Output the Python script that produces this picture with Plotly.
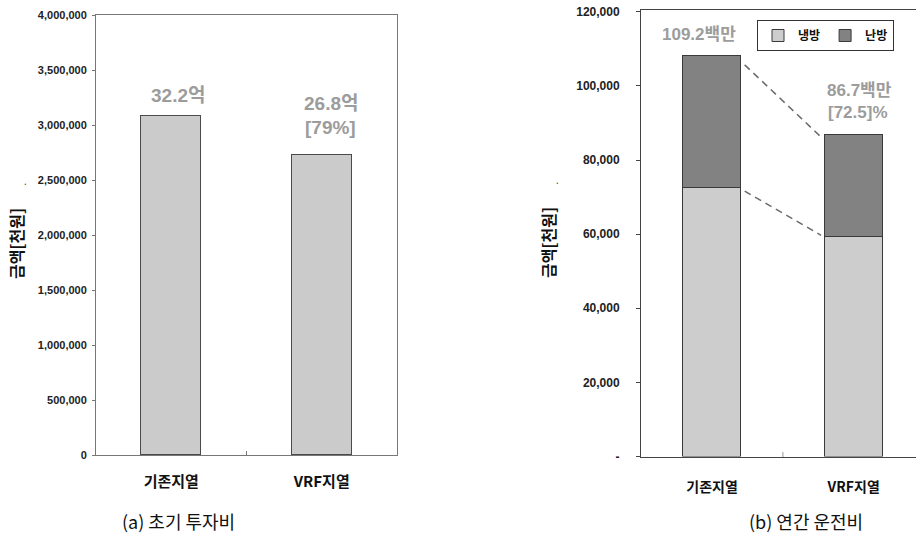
import plotly.graph_objects as go

# ---------------- data ----------------
categories = ["기존지열", "VRF지열"]
cat_pos = [0, 1]

invest_values = [3080000, 2730000]            # (a) 초기 투자비 [천원]
invest_labels = ["32.2억", "26.8억"]
invest_sub = ["", "[79%]"]
invest_ticks = [0, 500000, 1000000, 1500000, 2000000, 2500000, 3000000, 3500000, 4000000]
invest_ticktext = ["0", "500,000", "1,000,000", "1,500,000", "2,000,000",
                   "2,500,000", "3,000,000", "3,500,000", "4,000,000"]

cooling = [72400, 59200]                       # 냉방
heating = [35700, 27500]                       # 난방
oper_labels = ["109.2백만", "86.7백만"]
oper_sub = ["", "[72.5]%"]
oper_ticks = [0, 20000, 40000, 60000, 80000, 100000, 120000]
oper_ticktext = ["-", "20,000", "40,000", "60,000", "80,000", "100,000", "120,000"]

guide_x = [0.23, 0.77]
guide_top = [105700, 86200]
guide_low = [71600, 59700]

W, H = 916, 534
def px(x): return x / W
def py(y): return 1 - y / H

KFONT = "Noto Sans CJK KR, Noto Sans, sans-serif"
TFONT = "Liberation Sans, Arial, sans-serif"
NFONT = "Liberation Sans, Noto Sans CJK KR, sans-serif"

fig = go.Figure()

# (a) invest bars
fig.add_trace(go.Bar(
    x=cat_pos, y=invest_values, width=0.4, xaxis="x", yaxis="y",
    marker=dict(color="#cbcbcb", line=dict(color="#4a4a4a", width=1)),
    showlegend=False, hoverinfo="skip"))

# (b) stacked bars
fig.add_trace(go.Bar(
    x=cat_pos, y=cooling, width=0.41, name="냉방", xaxis="x2", yaxis="y2",
    marker=dict(color="#cdcdcd", line=dict(color="#3a3a3a", width=1)),
    hoverinfo="skip"))
fig.add_trace(go.Bar(
    x=cat_pos, y=heating, width=0.41, name="난방", xaxis="x2", yaxis="y2",
    marker=dict(color="#828282", line=dict(color="#3a3a3a", width=1)),
    hoverinfo="skip"))

for gy in (guide_top, guide_low):
    fig.add_trace(go.Scatter(
        x=guide_x, y=gy, mode="lines", xaxis="x2", yaxis="y2",
        line=dict(color="#6a6a6a", width=1.5, dash="7px,5px"),
        showlegend=False, hoverinfo="skip"))

annotations = []
LBL_A = dict(family=NFONT, size=19, color="#9c9c9c", weight="bold")
LBL_B = dict(family=NFONT, size=17, color="#9c9c9c", weight="bold")

# value labels (a)
annotations.append(dict(x=cat_pos[0], y=invest_values[0], xref="x", yref="y",
                        text=invest_labels[0], showarrow=False, yanchor="bottom",
                        xshift=7, yshift=8, font=LBL_A))
annotations.append(dict(x=cat_pos[1], y=invest_values[1], xref="x", yref="y",
                        text=invest_labels[1], showarrow=False, yanchor="bottom",
                        xshift=9, yshift=39, font=LBL_A))
annotations.append(dict(x=cat_pos[1], y=invest_values[1], xref="x", yref="y",
                        text=invest_sub[1], showarrow=False, yanchor="bottom",
                        xshift=9, yshift=15, font=LBL_A))
# value labels (b)
totals = [c + h for c, h in zip(cooling, heating)]
annotations.append(dict(x=cat_pos[0], y=totals[0], xref="x2", yref="y2",
                        text=oper_labels[0], showarrow=False, yanchor="bottom",
                        xshift=-13, yshift=10, font=LBL_B))
annotations.append(dict(x=cat_pos[1], y=totals[1], xref="x2", yref="y2",
                        text=oper_labels[1], showarrow=False, yanchor="bottom",
                        xshift=6, yshift=33, font=LBL_B))
annotations.append(dict(x=cat_pos[1], y=totals[1], xref="x2", yref="y2",
                        text=oper_sub[1], showarrow=False, yanchor="bottom",
                        xshift=4, yshift=11, font=LBL_B))

def paper_text(x, y, text, font, angle=0):
    annotations.append(dict(x=px(x), y=py(y), xref="paper", yref="paper", text=text,
                            textangle=angle, showarrow=False,
                            xanchor="center", yanchor="middle", font=font))

# axis titles
paper_text(16, 244, "금액[천원]", dict(family=KFONT, size=16, color="#111", weight="bold"), -90)
paper_text(548, 243, "금액[천원]", dict(family=KFONT, size=16, color="#111", weight="bold"), -90)
# stray dots
paper_text(25, 181, ".", dict(size=10, color="#333"))
paper_text(557, 180, ".", dict(size=10, color="#333"))
# captions
paper_text(178, 521, "(a) 초기 투자비", dict(family=KFONT, size=18, color="#111"))
paper_text(806, 521, "(b) 연간 운전비", dict(family=KFONT, size=18, color="#111"))

shapes = [
    dict(type="line", xref="x", yref="paper", x0=0.5, x1=0.5,
         y0=py(455), y1=py(451), line=dict(color="#777", width=1)),
    dict(type="line", xref="x2", yref="paper", x0=0.5, x1=0.5,
         y0=py(457), y1=py(452), line=dict(color="#999", width=1)),
]

fig.update_layout(
    width=W, height=H, margin=dict(l=0, r=0, t=0, b=0, autoexpand=False),
    paper_bgcolor="white", plot_bgcolor="white",
    barmode="stack", bargap=0,
    showlegend=True,
    legend=dict(x=px(757), y=py(20), xanchor="left", yanchor="top",
                orientation="h", traceorder="normal",
                bordercolor="#333", borderwidth=1, bgcolor="white",
                font=dict(family=KFONT, size=12, color="#111", weight="bold"),
                itemwidth=30, tracegroupgap=0),
    annotations=annotations, shapes=shapes,
    xaxis=dict(domain=[px(96), px(397)], range=[-0.5, 1.5],
               tickvals=cat_pos, ticktext=categories, ticks="",
               ticklabelstandoff=13,
               tickfont=dict(family=KFONT, size=15, color="#111", weight="bold"),
               showline=True, linecolor="#777", linewidth=1, mirror=True,
               showgrid=False, zeroline=False, fixedrange=True),
    yaxis=dict(domain=[py(455), py(15)], range=[0, 4000000],
               tickvals=invest_ticks, ticktext=invest_ticktext,
               ticks="outside", ticklen=3, tickcolor="#777",
               ticklabelstandoff=3,
               tickfont=dict(family=TFONT, size=11, color="#222", weight="bold"),
               showline=True, linecolor="#777", linewidth=1, mirror=True,
               showgrid=False, zeroline=False, fixedrange=True),
    xaxis2=dict(domain=[px(641), 1.0], range=[-0.502, 1.44], anchor="y2",
                tickvals=cat_pos, ticktext=categories, ticks="",
                ticklabelstandoff=18,
                tickfont=dict(family=KFONT, size=14, color="#111", weight="bold"),
                showline=True, linecolor="#444", linewidth=1, mirror=True,
                showgrid=False, zeroline=False, fixedrange=True),
    yaxis2=dict(domain=[py(456.5), py(10)], range=[0, 120500], anchor="x2",
                tickvals=oper_ticks, ticktext=oper_ticktext,
                ticks="outside", ticklen=4, tickcolor="#444",
                ticklabelstandoff=14,
                tickfont=dict(family=TFONT, size=12, color="#222", weight="bold"),
                showline=True, linecolor="#444", linewidth=1, mirror=False,
                showgrid=False, zeroline=False, fixedrange=True),
)

fig.write_html("out.html")
